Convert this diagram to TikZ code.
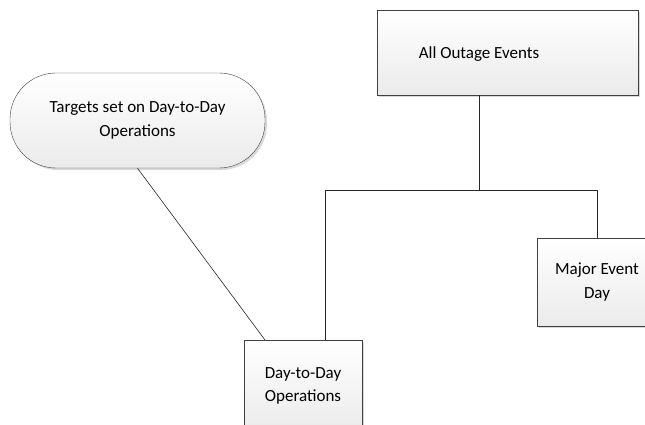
\documentclass[tikz,border=0pt]{standalone}
\usepackage{fontspec}
\setmainfont{Carlito}
\usetikzlibrary{positioning}
\usetikzlibrary{shadows}
\tikzset{box/.style = {draw=black!75, rectangle, align=center,
                       top color=white, bottom color=black!8,
                       drop shadow={shadow xshift=2pt, shadow yshift=-2pt, fill=black!15, opacity=1}}}
\tikzset{txt/.style = {align=center, font=\fontsize{17}{23.5}\selectfont}}
\tikzset{link/.style = {draw=black!85, semithick}}

\begin{document}
\begin{tikzpicture}[x=1pt, y=1pt]
      % Page frame (645 x 425)
      \clip (0,0) rectangle (645,-425);
      \fill[white] (0,0) rectangle (645,-425);

      % Draw boxes
      \node[box, minimum width=261pt, minimum height=85pt] (all) at (507.5,-52.5) {};
      \node[txt] (alltext) at (479,-54) {All Outage Events};
      \node[box, txt, rounded corners=46pt, minimum width=255pt, minimum height=95pt] (targets) at (137.5,-120.5)
            {Targets set on Day-to-Day\\Operations};
      \node[box, txt, minimum width=118pt, minimum height=92pt] (daily) at (303,-386) {Day-to-Day\\Operations};
      \node[box, txt, minimum width=120pt, minimum height=88pt] (major) at (597,-282) {Major Event\\Day};

      % Draw connectors
      \coordinate (split) at (alltext |- 0,-190);
      \draw[link] (alltext |- all.south) -- (split);
      \draw[link] (split) -| (325,-340) coordinate (dayin);
      \draw[link] (split) -| (major.north);
      \draw[link] (targets.south) -- (265,-340) coordinate (tgtin);
    \end{tikzpicture}
\end{document}
